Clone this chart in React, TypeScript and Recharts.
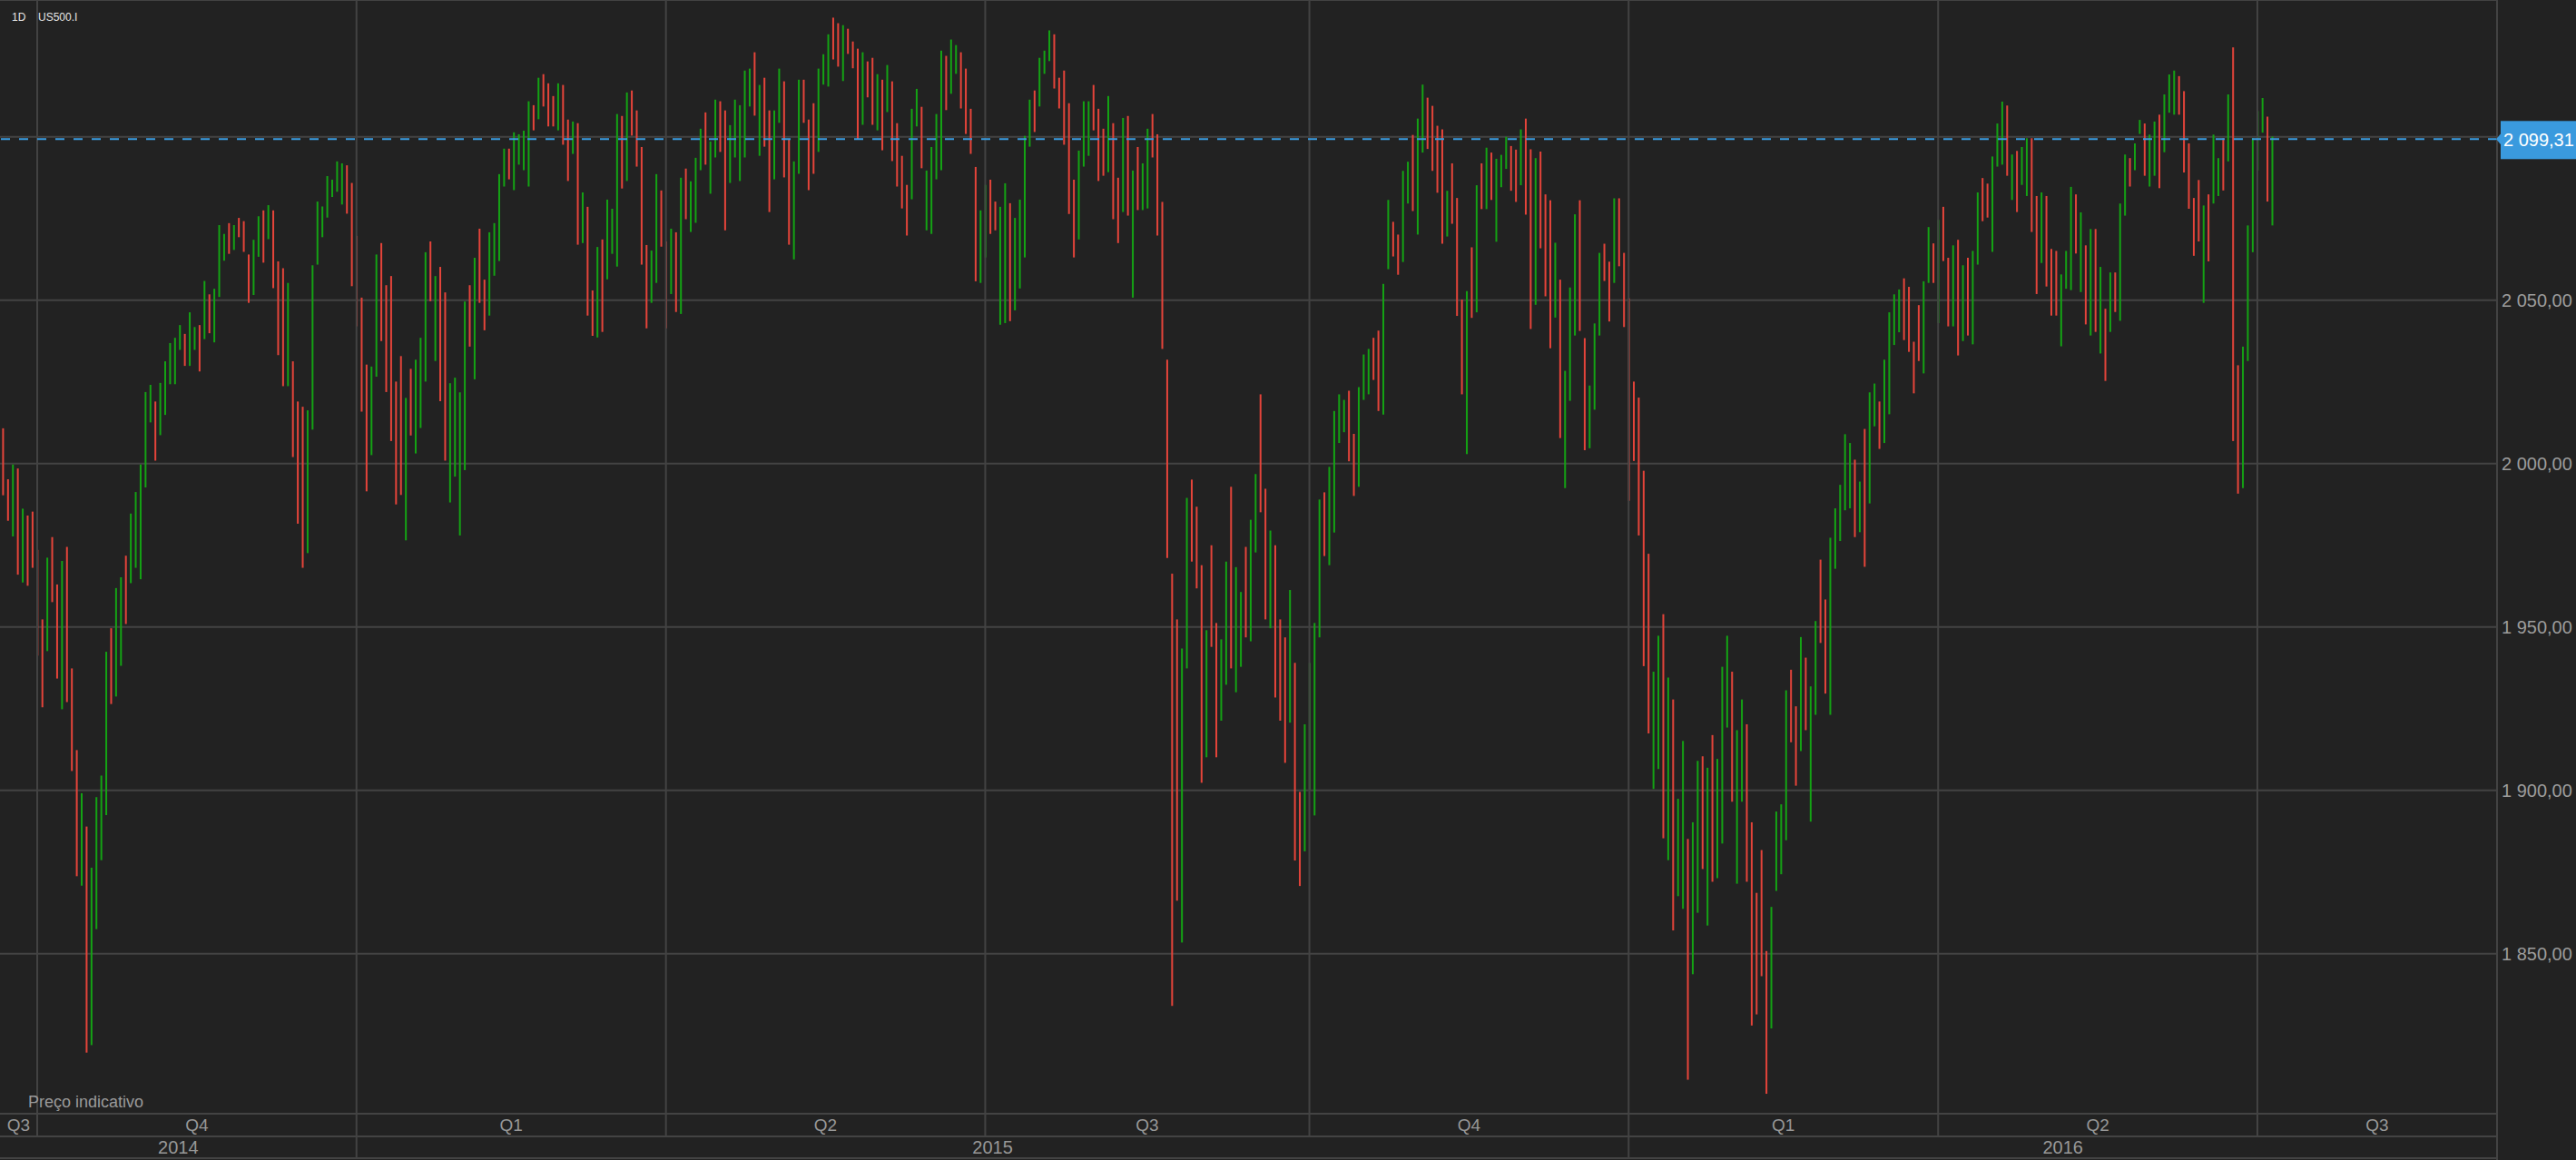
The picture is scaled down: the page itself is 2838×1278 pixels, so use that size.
import { Bar, CartesianGrid, ComposedChart, ReferenceLine, XAxis, YAxis } from 'recharts'

// one daily bar = [high, low, up] (up: 1 = closed higher, 0 = closed lower)
type Candle = [number, number, number]

const q3_2014: Candle[] = [
  [2021.1, 2005.9, 0], [2010.8, 1990.3, 0], [1995.2, 1982.5, 0], [1999.7, 1977.7, 1], [1998.5, 1966.0, 0],
  [1986.2, 1963.6, 1], [1984.1, 1962.6, 0], [1985.3, 1968.1, 0],
]

const q4_2014: Candle[] = [
  [1973.6, 1941.2, 0], [1952.3, 1925.4, 0], [1971.2, 1942.6, 1], [1977.5, 1957.6, 0], [1963.0, 1934.2, 0],
  [1970.2, 1924.8, 1], [1974.5, 1927.0, 0], [1937.3, 1905.9, 0], [1912.3, 1873.7, 0], [1899.1, 1870.8, 1],
  [1888.9, 1819.7, 0], [1876.3, 1822.0, 1], [1897.9, 1857.5, 1], [1904.5, 1878.6, 1], [1942.4, 1892.4, 1],
  [1949.6, 1926.4, 0], [1961.9, 1928.7, 1], [1965.2, 1938.1, 1], [1971.8, 1950.9, 0], [1984.7, 1963.4, 1],
  [1991.3, 1968.1, 1], [1999.7, 1964.6, 1], [2021.9, 1992.7, 1], [2024.1, 2012.6, 1], [2019.0, 2000.9, 0],
  [2024.7, 2008.7, 1], [2031.3, 2014.9, 1], [2036.9, 2024.3, 1], [2038.5, 2024.3, 1], [2042.4, 2034.8, 1],
  [2039.7, 2029.9, 0], [2046.3, 2029.9, 1], [2041.8, 2034.8, 1], [2042.4, 2028.2, 0], [2055.9, 2038.1, 1],
  [2051.8, 2039.9, 0], [2053.5, 2037.1, 1], [2073.0, 2051.0, 1], [2070.3, 2062.1, 1], [2073.6, 2064.2, 0],
  [2073.0, 2065.4, 1], [2075.2, 2069.3, 0], [2074.2, 2064.8, 0], [2064.0, 2049.2, 0], [2068.5, 2051.6, 1],
  [2075.7, 2063.3, 1], [2077.5, 2061.5, 0], [2079.1, 2068.7, 1], [2077.5, 2053.7, 0], [2061.9, 2033.2, 0],
  [2059.8, 2023.7, 0], [2055.3, 2023.7, 1], [2031.3, 2002.0, 0], [2019.0, 1981.6, 0], [2017.4, 1968.1, 0],
  [2016.3, 1972.6, 1], [2060.7, 2010.4, 1], [2080.2, 2060.9, 1], [2078.7, 2069.3, 1], [2088.0, 2075.3, 1],
  [2086.9, 2081.6, 1], [2092.5, 2083.2, 1], [2091.9, 2079.3, 1], [2091.3, 2076.5, 0], [2085.9, 2054.3, 0],
]

const q1_2015: Candle[] = [
  [2069.7, 2042.0, 0], [2050.8, 2015.9, 0], [2030.3, 1991.5, 0], [2029.7, 2002.6, 1], [2064.0, 2026.6, 1],
  [2067.5, 2037.5, 0], [2054.6, 2021.9, 0], [2057.4, 2006.9, 0], [2025.1, 1987.5, 0], [2032.9, 1990.4, 0],
  [2020.1, 1976.5, 1], [2029.0, 2008.6, 0], [2031.8, 2003.1, 1], [2038.5, 2010.9, 1], [2064.7, 2025.1, 1],
  [2068.0, 2049.7, 0], [2057.4, 2031.4, 1], [2060.2, 2019.1, 0], [2052.4, 2000.9, 0], [2024.6, 1988.1, 1],
  [2026.3, 1996.0, 1], [2021.8, 1978.0, 1], [2049.6, 1998.0, 1], [2054.6, 2035.8, 0], [2063.0, 2025.8, 1],
  [2071.9, 2049.2, 0], [2056.3, 2040.8, 0], [2070.8, 2045.3, 1], [2073.6, 2057.5, 1], [2088.6, 2062.0, 1],
  [2096.4, 2084.8, 1], [2096.4, 2087.0, 0], [2101.4, 2083.7, 1], [2100.8, 2091.5, 1], [2101.9, 2089.8, 1],
  [2110.9, 2084.8, 1], [2109.7, 2102.0, 0], [2118.1, 2105.4, 1], [2119.2, 2109.3, 0], [2116.4, 2103.2, 0],
  [2112.5, 2103.2, 0], [2116.4, 2102.0, 1], [2115.9, 2097.6, 0], [2105.3, 2086.5, 0], [2104.7, 2094.8, 1],
  [2104.2, 2067.0, 0], [2083.0, 2067.5, 1], [2078.6, 2045.3, 0], [2053.0, 2039.1, 0], [2066.3, 2038.6, 1],
  [2068.6, 2040.3, 0], [2080.8, 2056.4, 1], [2078.0, 2064.2, 1], [2107.0, 2060.3, 1], [2106.4, 2084.2, 0],
  [2113.6, 2086.5, 1], [2114.2, 2100.4, 0], [2108.1, 2090.9, 0], [2096.9, 2060.9, 0], [2066.9, 2041.4, 0],
  [2065.2, 2049.2, 1], [2088.6, 2055.3, 1], [2083.6, 2066.4, 0],
]

const q2_2015: Candle[] = [
  [2068.0, 2041.4, 0], [2071.9, 2051.9, 1], [2070.8, 2046.4, 0], [2087.5, 2045.8, 1], [2090.3, 2074.8, 0],
  [2086.4, 2070.9, 1], [2093.6, 2073.7, 1], [2102.5, 2089.8, 1], [2107.5, 2091.5, 0], [2098.6, 2082.6, 1],
  [2111.4, 2093.7, 1], [2110.9, 2095.4, 0], [2108.1, 2071.4, 0], [2103.6, 2085.9, 1], [2111.4, 2093.7, 1],
  [2109.7, 2086.5, 1], [2120.3, 2093.7, 1], [2120.9, 2109.3, 1], [2125.9, 2106.5, 0], [2115.9, 2094.2, 1],
  [2118.1, 2097.0, 0], [2108.1, 2077.0, 0], [2108.1, 2087.0, 1], [2120.9, 2104.3, 1], [2117.0, 2087.6, 0],
  [2099.2, 2067.0, 0], [2092.5, 2062.5, 1], [2117.5, 2088.7, 1], [2117.5, 2104.3, 0], [2105.3, 2083.7, 0],
  [2110.3, 2088.7, 0], [2120.9, 2095.4, 1], [2125.3, 2116.0, 1], [2131.4, 2115.4, 1], [2136.5, 2123.7, 0],
  [2134.8, 2121.5, 0], [2134.2, 2117.1, 1], [2133.1, 2125.4, 0], [2129.2, 2121.0, 0], [2127.0, 2099.3, 0],
  [2125.9, 2103.7, 1], [2123.1, 2112.1, 0], [2124.2, 2103.7, 0], [2119.2, 2102.0, 1], [2117.5, 2095.9, 0],
  [2122.0, 2107.6, 1], [2117.0, 2092.6, 0], [2104.2, 2084.8, 0], [2094.2, 2078.1, 0], [2085.3, 2069.8, 0],
  [2108.6, 2080.9, 1], [2114.7, 2103.2, 1], [2109.2, 2090.4, 0], [2089.7, 2071.4, 1], [2096.9, 2070.3, 1],
  [2107.0, 2087.0, 1], [2126.4, 2089.8, 1], [2124.8, 2108.2, 0], [2129.8, 2113.2, 1], [2128.1, 2119.3, 1],
  [2125.9, 2108.7, 0], [2120.9, 2100.9, 0], [2108.6, 2094.8, 0], [2090.8, 2055.8, 0], [2077.5, 2055.3, 1],
]

const q3_2015: Candle[] = [
  [2085.3, 2063.1, 1], [2086.9, 2070.3, 0], [2080.2, 2071.4, 0], [2078.6, 2042.5, 1], [2085.8, 2043.0, 1],
  [2079.7, 2043.6, 0], [2075.2, 2046.9, 1], [2080.8, 2053.6, 1], [2100.3, 2063.1, 1], [2111.4, 2097.0, 1],
  [2114.2, 2101.5, 0], [2124.2, 2109.3, 1], [2126.4, 2119.3, 1], [2132.6, 2123.2, 1], [2131.4, 2114.8, 0],
  [2118.1, 2108.7, 0], [2120.3, 2097.6, 0], [2110.3, 2076.4, 0], [2086.9, 2063.1, 0], [2095.8, 2068.6, 1],
  [2110.9, 2090.9, 1], [2110.9, 2094.2, 1], [2115.9, 2102.0, 0], [2108.6, 2086.5, 0], [2102.5, 2088.1, 0],
  [2112.5, 2089.2, 1], [2104.2, 2074.8, 0], [2087.5, 2067.5, 0], [2105.8, 2077.0, 1], [2106.4, 2075.9, 0],
  [2089.7, 2050.8, 1], [2096.9, 2077.6, 0], [2091.9, 2077.6, 1], [2102.5, 2078.1, 1], [2107.0, 2093.7, 0],
  [2100.8, 2069.8, 0], [2080.1, 2035.1, 0], [2031.8, 1971.1, 0], [1966.3, 1834.0, 0], [1952.3, 1866.2, 0],
  [1943.4, 1853.4, 1], [1989.5, 1937.3, 1], [1995.1, 1970.0, 0], [1986.8, 1961.8, 0], [1968.9, 1902.3, 0],
  [1949.0, 1910.1, 1], [1975.0, 1943.9, 0], [1951.2, 1910.1, 0], [1946.2, 1921.3, 1], [1970.0, 1932.3, 1],
  [1992.9, 1937.3, 0], [1968.3, 1930.0, 1], [1960.7, 1937.8, 1], [1974.5, 1946.8, 0], [1982.8, 1945.6, 1],
  [1996.8, 1972.8, 1], [2021.2, 1985.1, 0], [1992.3, 1952.3, 0], [1979.5, 1949.6, 1], [1975.0, 1928.4, 0],
  [1952.3, 1921.3, 0], [1946.8, 1908.4, 0], [1961.3, 1920.7, 1], [1939.0, 1878.5, 0], [1899.5, 1870.7, 0],
  [1920.2, 1881.3, 1],
]

const q4_2015: Candle[] = [
  [1939.0, 1900.1, 1], [1951.2, 1892.3, 1], [1989.0, 1946.8, 1], [1991.2, 1971.7, 0], [1999.0, 1968.9, 1],
  [2016.1, 1978.9, 1], [2021.2, 2006.3, 1], [2019.5, 2009.6, 1], [2022.3, 2000.7, 0], [2009.1, 1990.1, 0],
  [2023.4, 1992.9, 1], [2033.4, 2019.5, 1], [2035.1, 2021.2, 1], [2038.5, 2025.6, 0], [2040.7, 2016.1, 0],
  [2055.0, 2015.0, 1], [2080.7, 2059.5, 1], [2074.0, 2063.4, 0], [2070.1, 2057.8, 0], [2089.6, 2061.7, 1],
  [2092.4, 2079.6, 1], [2100.6, 2077.3, 0], [2105.6, 2070.1, 1], [2116.0, 2095.2, 1], [2112.0, 2096.3, 0],
  [2109.5, 2089.6, 0], [2103.4, 2082.9, 0], [2102.3, 2067.3, 0], [2083.5, 2069.5, 1], [2091.9, 2073.4, 0],
  [2081.3, 2045.2, 0], [2050.2, 2021.2, 0], [2052.8, 2002.9, 1], [2066.2, 2044.6, 0], [2085.2, 2046.3, 1],
  [2091.9, 2077.9, 0], [2096.7, 2077.9, 1], [2095.2, 2080.7, 0], [2093.3, 2067.9, 1], [2094.5, 2084.6, 1],
  [2100.0, 2090.2, 1], [2097.2, 2083.5, 0], [2096.1, 2080.1, 0], [2102.3, 2085.2, 1], [2105.6, 2076.2, 0],
  [2096.2, 2041.2, 0], [2093.5, 2048.6, 1], [2095.5, 2065.9, 0], [2082.4, 2051.2, 0], [2080.6, 2035.3, 0],
  [2067.6, 2044.7, 1], [2056.3, 2007.8, 0], [2028.4, 1992.5, 1], [2053.9, 2019.2, 1], [2076.3, 2039.2, 1],
  [2080.6, 2040.6, 0], [2038.4, 2004.1, 0], [2023.9, 2004.7, 1], [2042.9, 2016.5, 1], [2064.5, 2039.2, 1],
  [2067.3, 2055.9, 0], [2061.8, 2043.5, 0], [2081.2, 2055.3, 1], [2081.2, 2060.4, 0], [2064.5, 2041.8, 0],
]

const q1_2016: Candle[] = [
  [2050.6, 1988.6, 0], [2025.1, 2000.8, 0], [2020.2, 1978.0, 0], [1997.8, 1938.0, 0], [1972.4, 1917.4, 0],
  [1936.3, 1900.4, 1], [1947.3, 1906.5, 1], [1953.9, 1885.3, 0], [1934.5, 1878.6, 1], [1927.8, 1857.1, 0],
  [1897.4, 1867.6, 1], [1915.1, 1863.7, 1], [1885.1, 1811.4, 0], [1890.2, 1843.7, 1], [1909.0, 1862.5, 1],
  [1910.4, 1875.9, 0], [1906.9, 1858.6, 1], [1916.9, 1872.0, 0], [1909.6, 1873.1, 1], [1937.8, 1883.7, 1],
  [1947.3, 1919.2, 1], [1936.3, 1896.5, 0], [1918.4, 1871.4, 1], [1927.8, 1896.5, 1], [1920.2, 1872.0, 0],
  [1890.2, 1828.0, 0], [1868.6, 1831.4, 0], [1881.7, 1843.1, 0], [1850.8, 1807.1, 0], [1864.3, 1827.1, 1],
  [1893.5, 1869.2, 1], [1895.7, 1874.3, 1], [1930.6, 1884.7, 1], [1936.9, 1914.7, 0], [1925.7, 1901.4, 0],
  [1946.9, 1912.0, 1], [1940.6, 1918.4, 0], [1931.8, 1890.4, 1], [1951.8, 1923.1, 1], [1970.6, 1945.1, 0],
  [1958.4, 1929.6, 0], [1977.3, 1923.1, 1], [1986.3, 1967.8, 1], [1993.5, 1976.3, 1], [2009.0, 1985.7, 1],
  [2006.3, 1986.3, 1], [2001.2, 1977.5, 0], [1994.5, 1979.0, 1], [2010.6, 1968.4, 0], [2021.8, 1987.8, 1],
  [2024.5, 2011.4, 1], [2019.0, 2004.5, 0], [2031.8, 2006.3, 1], [2046.3, 2015.1, 1], [2051.8, 2036.3, 1],
  [2053.3, 2040.2, 1], [2056.7, 2037.8, 0], [2054.1, 2034.2, 0], [2037.3, 2021.5, 0], [2048.5, 2031.4, 0],
  [2055.8, 2027.6, 1], [2072.4, 2055.3, 1], [2067.4, 2055.3, 0],
]

const q2_2016: Candle[] = [
  [2074.6, 2043.0, 1], [2078.6, 2062.0, 0], [2063.0, 2042.0, 0], [2066.8, 2042.0, 1], [2068.5, 2033.1, 0],
  [2060.7, 2037.5, 1], [2063.0, 2039.2, 0], [2065.1, 2036.5, 1], [2083.0, 2060.9, 1], [2087.4, 2074.2, 0],
  [2085.7, 2075.3, 0], [2094.0, 2064.8, 1], [2104.1, 2090.9, 1], [2110.8, 2091.5, 1], [2109.6, 2088.1, 0],
  [2094.6, 2080.7, 1], [2095.7, 2077.0, 0], [2096.9, 2085.3, 1], [2099.6, 2081.9, 1], [2099.6, 2070.9, 0],
  [2081.9, 2051.9, 0], [2083.0, 2061.4, 1], [2081.9, 2054.2, 0], [2065.7, 2045.3, 0], [2065.1, 2045.3, 0],
  [2057.9, 2035.9, 1], [2065.1, 2053.5, 1], [2084.7, 2053.1, 1], [2082.4, 2064.3, 0], [2076.9, 2052.5, 1],
  [2066.8, 2042.6, 0], [2071.8, 2039.2, 1], [2071.8, 2040.3, 0], [2060.2, 2033.7, 1], [2047.4, 2025.3, 0],
  [2058.5, 2040.3, 1], [2058.5, 2046.4, 0], [2079.6, 2043.7, 1], [2094.6, 2075.9, 1], [2093.5, 2084.8, 0],
  [2098.0, 2089.8, 1], [2105.2, 2100.9, 1], [2104.1, 2088.1, 0], [2100.7, 2084.8, 1], [2104.7, 2088.1, 1],
  [2106.8, 2084.3, 0], [2113.0, 2095.3, 1], [2119.1, 2107.4, 1], [2120.3, 2106.8, 1], [2118.6, 2106.8, 0],
  [2114.0, 2089.1, 0], [2098.0, 2078.0, 0], [2081.3, 2063.6, 0], [2086.8, 2068.0, 0], [2079.0, 2049.2, 1],
  [2082.4, 2061.9, 0], [2100.7, 2079.6, 1], [2093.5, 2081.9, 1], [2099.6, 2083.6, 0], [2113.0, 2092.5, 1],
  [2127.4, 2006.9, 0], [2030.1, 1990.8, 0], [2035.8, 1992.5, 1], [2072.9, 2031.4, 1], [2099.6, 2064.7, 1],
]

const q3_2016: Candle[] = [
  [2107.9, 2089.7, 1], [2111.9, 2101.3, 1], [2106.2, 2080.2, 0], [2100.1, 2072.9, 1],
]

const quarters = [
  { label: 'Q3', year: '2014', bars: q3_2014 },
  { label: 'Q4', year: '2014', bars: q4_2014 },
  { label: 'Q1', year: '2015', bars: q1_2015 },
  { label: 'Q2', year: '2015', bars: q2_2015 },
  { label: 'Q3', year: '2015', bars: q3_2015 },
  { label: 'Q4', year: '2015', bars: q4_2015 },
  { label: 'Q1', year: '2016', bars: q1_2016 },
  { label: 'Q2', year: '2016', bars: q2_2016 },
  { label: 'Q3', year: '2016', bars: q3_2016 },
]

const priceTicks = [1850, 1900, 1950, 2000, 2050, 2100]
const lastPrice = 2099.31

const W = 2838
const H = 1278
const PLOT_W = 2751
const PLOT_H = 1227
const X_MIN = 0.4235
const X_MAX = 508.79
const Y_MIN = 1801.0
const Y_MAX = 2141.9

const BG = '#222222'
const GRID = '#434343'
const RED = '#e5443a'
const GREEN = '#14a314'
const BLUE = '#3a9ade'
const FONT = '"Liberation Sans", Arial, Helvetica, sans-serif'

const rows: { k: number; range: [number, number]; up: number }[] = []
const qStarts: number[] = []
let idx = 0
quarters.forEach((q) => {
  qStarts.push(idx)
  q.bars.forEach(([hi, lo, up]) => {
    rows.push({ k: idx, range: [lo, hi], up })
    idx += 1
  })
})

const xPix = (k: number) => ((k - X_MIN) / (X_MAX - X_MIN)) * PLOT_W
const yPix = (v: number) => ((Y_MAX - v) / (Y_MAX - Y_MIN)) * PLOT_H

function fmtPrice(v: number) {
  const [i, d] = v.toFixed(2).split('.')
  return i.replace(/\B(?=(\d{3})+(?!\d))/g, ' ') + ',' + d
}

const RangeBar = (p: any) => {
  const { x, y, width, height, payload } = p
  if (x == null || y == null || height == null) return null
  const cx = x + width / 2
  const top = Math.min(y, y + height)
  return <rect x={cx - 1} y={top} width={2} height={Math.max(Math.abs(height), 1)} fill={payload.up ? GREEN : RED} />
}

const PriceTick = (p: any) => (
  <text x={PLOT_W + 5} y={p.y} dy={7} fill="#9c9c9c" fontSize={20} fontFamily={FONT}>
    {fmtPrice(p.payload.value)}
  </text>
)

export default function App() {
  const cells = quarters.map((q, i) => ({
    label: q.label,
    x0: i === 0 ? 0 : xPix(qStarts[i]),
    x1: i === quarters.length - 1 ? PLOT_W : xPix(qStarts[i + 1]),
  }))

  const years: { label: string; x0: number; x1: number }[] = []
  quarters.forEach((q, i) => {
    const last = years[years.length - 1]
    if (last && last.label === q.year) last.x1 = cells[i].x1
    else years.push({ label: q.year, x0: cells[i].x0, x1: cells[i].x1 })
  })

  const priceY = yPix(lastPrice)

  return (
    <div style={{ position: 'relative', width: W, height: H, background: BG }}>
      <style>{'body{margin:0;background:#222222}'}</style>
      <ComposedChart width={W} height={H} data={rows} margin={{ top: 0, right: 0, bottom: H - PLOT_H, left: 0 }}>
        <CartesianGrid horizontal vertical={false} stroke={GRID} strokeWidth={2} />
        <XAxis type="number" dataKey="k" domain={[X_MIN, X_MAX]} allowDataOverflow hide />
        <YAxis
          orientation="right"
          width={W - PLOT_W}
          domain={[Y_MIN, Y_MAX]}
          allowDataOverflow
          ticks={priceTicks}
          interval={0}
          axisLine={false}
          tickLine={false}
          tick={<PriceTick />}
        />
        {qStarts.slice(1).map((k) => (
          <ReferenceLine key={k} x={k} stroke={GRID} strokeWidth={2} />
        ))}
        <Bar dataKey="range" barSize={2} shape={<RangeBar />} isAnimationActive={false} />
        <ReferenceLine y={lastPrice} stroke={BLUE} strokeWidth={2} strokeDasharray="10 10" />
      </ComposedChart>

      <svg width={W} height={H} style={{ position: 'absolute', left: 0, top: 0, pointerEvents: 'none' }}>
        <text x={13} y={23} fill="#e6e6e6" fontSize={12} fontFamily={FONT}>1D</text>
        <text x={42} y={23} fill="#e6e6e6" fontSize={12} fontFamily={FONT}>US500.I</text>

        <text x={31} y={1220} fill="#9a9a9a" fontSize={18} fontFamily={FONT}>Preço indicativo</text>

        <line x1={0} x2={PLOT_W} y1={PLOT_H} y2={PLOT_H} stroke={GRID} strokeWidth={2} />
        <line x1={0} x2={PLOT_W} y1={1252} y2={1252} stroke={GRID} strokeWidth={2} />
        <line x1={0} x2={PLOT_W} y1={1276} y2={1276} stroke={GRID} strokeWidth={2} />
        <line x1={PLOT_W} x2={PLOT_W} y1={0} y2={H} stroke={GRID} strokeWidth={2} />

        {cells.map((c, i) => (
          <g key={'q' + i}>
            {i > 0 && <line x1={c.x0} x2={c.x0} y1={PLOT_H} y2={1252} stroke={GRID} strokeWidth={2} />}
            <text x={(c.x0 + c.x1) / 2} y={1246} textAnchor="middle" fill="#979797" fontSize={19} fontFamily={FONT}>
              {c.label}
            </text>
          </g>
        ))}
        {years.map((y, i) => (
          <g key={'y' + i}>
            {i > 0 && <line x1={y.x0} x2={y.x0} y1={1252} y2={1276} stroke={GRID} strokeWidth={2} />}
            <text x={(y.x0 + y.x1) / 2} y={1271} textAnchor="middle" fill="#979797" fontSize={20} fontFamily={FONT}>
              {y.label}
            </text>
          </g>
        ))}

        <polygon points={`${PLOT_W - 1},${priceY} ${PLOT_W + 5},${priceY - 7} ${PLOT_W + 5},${priceY + 7}`} fill={BLUE} />
        <rect x={PLOT_W + 4} y={priceY - 20} width={W - PLOT_W - 4} height={42} fill={BLUE} />
        <text x={PLOT_W + 7} y={priceY + 8} fill="#ffffff" fontSize={20} fontFamily={FONT}>
          {fmtPrice(lastPrice)}
        </text>
      </svg>
    </div>
  )
}
